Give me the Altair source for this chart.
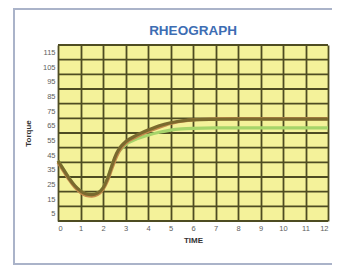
import altair as alt
import pandas as pd

# ---- data ----
time = [0, 0.25, 0.5, 0.75, 1.0, 1.25, 1.5, 1.75, 2.0, 2.2, 2.4, 2.6, 2.8, 3.0,
        3.5, 4.0, 4.5, 5.0, 5.5, 6, 7, 8, 9, 10, 11, 12]
torque_brown = [41, 35, 29, 24, 20.5, 18.5, 18, 19, 22.5, 29, 38, 46, 51, 54,
                58.5, 62, 65, 67, 68.3, 69, 69.3, 69.5, 69.5, 69.5, 69.5, 69.5]
torque_tan = [40, 34, 28, 23, 19.5, 17.5, 17, 18, 21.5, 27.5, 36, 44, 49.5, 53,
              57.5, 61, 64, 66.5, 68, 69, 69.6, 69.8, 69.8, 69.8, 69.8, 69.8]
torque_green = [41, 35, 29, 24, 20.5, 18.5, 18, 19, 22.5, 29, 38, 45, 49, 52,
                56, 58.5, 60.5, 62, 62.8, 63.2, 63.5, 63.5, 63.5, 63.5, 63.5, 63.5]

x_ticks = list(range(0, 13))
y_labels = list(range(5, 116, 10))
y_grid = list(range(0, 121, 10))
title_text = "RHEOGRAPH"

series = ["green", "tan", "brown"]
colors = ["#a6d46a", "#c48a4c", "#7a6a2e"]

rows = []
for name, vals in zip(series, [torque_green, torque_tan, torque_brown]):
    for t, v in zip(time, vals):
        rows.append({"time": t, "torque": v, "series": name})
df = pd.DataFrame(rows)
grid_df = pd.DataFrame({"g": y_grid})

W, H = 270, 176
FONT = "Liberation Sans"
GRID = "#4e4c22"

xscale = alt.Scale(domain=[0, 12], nice=False)
yscale = alt.Scale(domain=[0, 120], nice=False, zero=False)

y_axis = alt.Axis(values=y_labels, title="Torque", grid=False,
                  ticks=False, domain=False, labelFontSize=7.5,
                  labelColor="#5e5e5e", labelFont=FONT, labelPadding=3,
                  titleFont=FONT, titleFontSize=8, titleColor="#333333",
                  titleFontWeight="bold", titlePadding=10)
x_axis = alt.Axis(values=x_ticks, title="TIME", grid=True,
                  gridColor=GRID, gridWidth=1.8, gridOpacity=1,
                  ticks=False, domain=False, labelFontSize=7.5,
                  labelColor="#5e5e5e", labelFont=FONT, labelPadding=3,
                  titleFont=FONT, titleFontSize=8, titleColor="#333333",
                  titleFontWeight="bold", titlePadding=5)

one = alt.Data(values=[{}])
frame_left = alt.Chart(one).mark_rule(color="#aab3c9", strokeWidth=2).encode(
    x=alt.value(-44), y=alt.value(-36), y2=alt.value(219))
frame_top = alt.Chart(one).mark_rule(color="#aab3c9", strokeWidth=2).encode(
    x=alt.value(-45), x2=alt.value(W + 10), y=alt.value(-36))
frame_bottom = alt.Chart(one).mark_rule(color="#aab3c9", strokeWidth=2).encode(
    x=alt.value(-45), x2=alt.value(W + 10), y=alt.value(219))

title = alt.Chart(one).mark_text(
    text=title_text, color="#3d6db3", fontSize=13.5, fontWeight="bold",
    font=FONT, align="center", baseline="middle"
).encode(x=alt.value(W / 2), y=alt.value(-14))

hgrid = alt.Chart(grid_df).mark_rule(color=GRID, strokeWidth=1.8).encode(
    y=alt.Y("g:Q", scale=yscale, axis=y_axis)
)

lines = alt.Chart(df).mark_line(strokeWidth=3.2, interpolate="monotone").encode(
    x=alt.X("time:Q", scale=xscale, axis=x_axis),
    y=alt.Y("torque:Q", scale=yscale, axis=y_axis),
    color=alt.Color("series:N", scale=alt.Scale(domain=series, range=colors),
                    legend=None),
    order=alt.Order("series:N"),
)

chart = alt.layer(frame_left, frame_top, frame_bottom, title, hgrid, lines).properties(
    width=W, height=H,
    autosize=alt.AutoSizeParams(type="none"),
    padding={"left": 50, "top": 37, "right": 4, "bottom": 46},
    background="white",
).configure_view(fill="#f4f29a", stroke=None)

chart.save("out.html", embed_options={"renderer": "svg", "actions": False})
